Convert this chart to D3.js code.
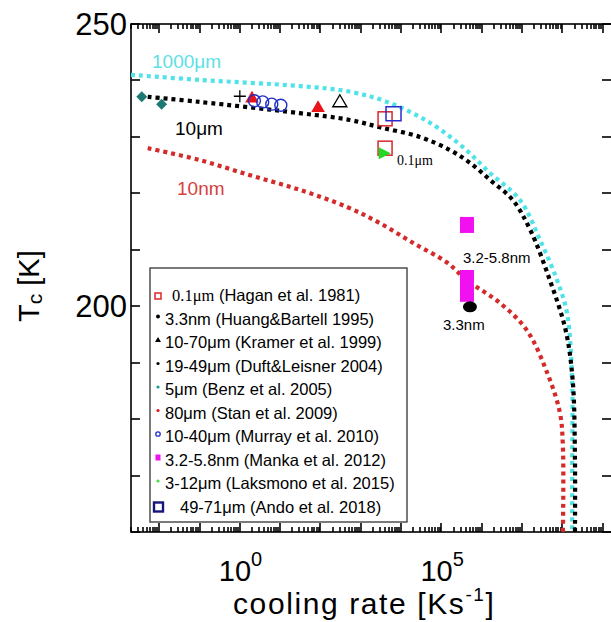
<!DOCTYPE html>
<html>
<head>
<meta charset="utf-8">
<script src="https://cdn.jsdelivr.net/npm/d3@7"></script>
<style>
  body { margin: 0; background: #fff; }
  svg { font-family: "Liberation Sans", Arial, sans-serif; }
</style>
</head>
<body>
<div id="chart"></div>
<script>
// model curves: cooling rate [K/s] vs Tc [K]
var rate1000um = [2.0e-3, 0.10, 31, 540, 5.3e3, 5.2e4, 3.4e5, 1.6e6, 8.9e6, 2.8e7, 7.4e7, 1.3e8, 1.74e8, 1.75e8, 1.75e8];
var tc1000um   = [241.0, 240.1, 239.0, 238.0, 236.0, 232.5, 228.2, 223.6, 218.8, 211.7, 204.6, 198.8, 186.9, 172.7, 160];
var rate10um = [5.2e-3, 0.10, 31, 540, 3.0e3, 2.9e4, 1.6e5, 5.1e5, 1.6e6, 5.9e6, 1.6e7, 4.9e7, 1.2e8, 1.8e8, 2.05e8, 2.05e8];
var tc10um   = [237.1, 236.2, 234.2, 233.0, 231.7, 230.0, 227.7, 225.4, 222.4, 218.8, 213.5, 204.6, 195.8, 186.9, 172.7, 160];
var rate10nm = [5.2e-3, 0.10, 1.8, 31, 450, 3.0e3, 2.0e4, 1.4e5, 4.3e5, 2.8e6, 1.3e7, 4.2e7, 8.7e7, 1.03e8, 1.03e8];
var tc10nm   = [228.0, 225.9, 223.2, 220.6, 217.6, 214.7, 211.2, 207.7, 204.6, 200.6, 195.8, 188.2, 181.1, 175.1, 160];

// measurements
var haganRate = [4000, 4000],           haganTc = [233.2, 228.0];
var huangRate = [5.1e5],                huangTc = [199.9];
var kramerRate = [302],                 kramerTc = [236.4];
var duftRate = [1.0],                   duftTc = [237.2];
var benzRate = [3.7e-3, 1.15e-2],       benzTc = [237.1, 235.8];
var stanRate = [2.0, 87],               stanTc = [236.8, 235.1];
var murrayRate = [2.3, 3.7, 6.2, 10.4], murrayTc = [236.4, 236.2, 235.8, 235.6];
var mankaRate = [4.3e5, 4.3e5, 4.3e5],  mankaTc = [214.4, 205.0, 202.2];
var laksmonoRate = [3700],              laksmonoTc = [227.1];
var andoRate = [6300],                  andoTc = [234.1];

var legendLabels = [
  ["0.1\u03bcm", " (Hagan et al. 1981)"],
  ["3.3nm (Huang&Bartell 1995)"],
  ["10-70\u03bcm (Kramer et al. 1999)"],
  ["19-49\u03bcm (Duft&Leisner 2004)"],
  ["5\u03bcm (Benz et al. 2005)"],
  ["80\u03bcm (Stan et al. 2009)"],
  ["10-40\u03bcm (Murray et al. 2010)"],
  ["3.2-5.8nm (Manka et al. 2012)"],
  ["3-12\u03bcm (Laksmono et al. 2015)"],
  ["49-71\u03bcm (Ando et al. 2018)"]
];
var xTickExps = [0, 5];
var yTickLabels = [200, 250];
var yTickValues = [160, 170, 180, 190, 200, 210, 220, 230, 240, 250];

var W = 611, H = 622;
var plot = {left: 131, right: 612, top: 24, bottom: 532};

var svg = d3.select("#chart").append("svg")
  .attr("width", W).attr("height", H);

var x = d3.scaleLog().domain([2e-3, 1.7e9]).range([plot.left, plot.right]);
var y = d3.scaleLinear().domain([160, 250]).range([plot.bottom, plot.top]);

svg.append("clipPath").attr("id", "clip")
  .append("rect")
  .attr("x", plot.left).attr("y", plot.top)
  .attr("width", plot.right - plot.left).attr("height", plot.bottom - plot.top);

// tick values of the log axis
var majors = [], minors = [];
for (var e = -3; e <= 9; e++) {
  majors.push(Math.pow(10, e));
  for (var m = 2; m <= 9; m++) minors.push(m * Math.pow(10, e));
}
majors = majors.filter(function(v) { return v >= x.domain()[0] && v <= x.domain()[1]; });
minors = minors.filter(function(v) { return v >= x.domain()[0] && v <= x.domain()[1]; });

// inward ticks on all four sides
var ticks = svg.append("g").attr("stroke", "#000").attr("stroke-width", 1.6);
function xTicks(vals, len) {
  ticks.selectAll(null).data(vals).enter().append("line")
    .attr("x1", function(d) { return Math.round(x(d)); })
    .attr("x2", function(d) { return Math.round(x(d)); })
    .attr("y1", plot.top).attr("y2", plot.top + len);
  ticks.selectAll(null).data(vals).enter().append("line")
    .attr("x1", function(d) { return Math.round(x(d)); })
    .attr("x2", function(d) { return Math.round(x(d)); })
    .attr("y1", plot.bottom).attr("y2", plot.bottom - len);
}
xTicks(majors, 9);
xTicks(minors, 5);
ticks.selectAll(null).data(yTickValues).enter().append("line")
  .attr("x1", plot.left).attr("x2", plot.left + 9)
  .attr("y1", function(d) { return Math.round(y(d)); })
  .attr("y2", function(d) { return Math.round(y(d)); });
ticks.selectAll(null).data(yTickValues).enter().append("line")
  .attr("x1", plot.right).attr("x2", plot.right - 10)
  .attr("y1", function(d) { return Math.round(y(d)); })
  .attr("y2", function(d) { return Math.round(y(d)); });

// frame
svg.append("rect")
  .attr("x", plot.left).attr("y", plot.top)
  .attr("width", plot.right - plot.left).attr("height", plot.bottom - plot.top)
  .attr("fill", "none").attr("stroke", "#000").attr("stroke-width", 1.6);

// tick labels
svg.selectAll(".ylab").data(yTickLabels).enter().append("text")
  .attr("x", plot.left - 4).attr("y", function(d) { return y(d) + 11; })
  .attr("text-anchor", "end").attr("font-size", 31)
  .text(function(d) { return d; });

var xl = svg.selectAll(".xlab").data(xTickExps).enter().append("text")
  .attr("x", function(d) { return x(Math.pow(10, d)) - 21; })
  .attr("y", 581).attr("font-size", 29);
xl.append("tspan").text("10");
xl.append("tspan").attr("dy", -15).attr("font-size", 20).text(function(d) { return d; });

// axis titles
var xt = svg.append("text").attr("x", 233).attr("y", 614)
  .attr("font-size", 30).attr("letter-spacing", 1.6);
xt.append("tspan").text("cooling rate [Ks");
xt.append("tspan").attr("dy", -13).attr("font-size", 19).text("-1");
xt.append("tspan").attr("dy", 13).text("]");

var yt = svg.append("text")
  .attr("transform", "translate(39,322) rotate(-90)")
  .attr("font-size", 29);
yt.append("tspan").text("T");
yt.append("tspan").attr("dy", 3).attr("font-size", 21).text("c");
yt.append("tspan").attr("dy", -3).text(" [K]");

// dotted model curves
var curves = [
  {rate: rate1000um, tc: tc1000um, color: "#4fe3e8"},
  {rate: rate10um, tc: tc10um, color: "#000"},
  {rate: rate10nm, tc: tc10nm, color: "#d42a2a"}
];
var line = d3.line()
  .x(function(d) { return x(d[0]); })
  .y(function(d) { return y(d[1]); })
  .curve(d3.curveCatmullRom.alpha(0.5));
curves.forEach(function(c) {
  svg.append("path")
    .datum(d3.zip(c.rate, c.tc))
    .attr("clip-path", "url(#clip)")
    .attr("d", line)
    .attr("fill", "none")
    .attr("stroke", c.color)
    .attr("stroke-width", 4.2)
    .attr("stroke-dasharray", "4,4");
});

// curve labels
svg.append("text").attr("x", 152).attr("y", 68).attr("font-size", 19).attr("fill", "#5ee0e4").text("1000\u03bcm");
svg.append("text").attr("x", 175).attr("y", 135).attr("font-size", 19).attr("fill", "#000").text("10\u03bcm");
svg.append("text").attr("x", 177).attr("y", 195).attr("font-size", 19).attr("fill", "#d84040").text("10nm");
svg.append("text").attr("x", 397).attr("y", 165).attr("font-size", 14).attr("font-family", "Liberation Serif, serif").text("0.1\u03bcm");
svg.append("text").attr("x", 463).attr("y", 263).attr("font-size", 15).text("3.2-5.8nm");
svg.append("text").attr("x", 443).attr("y", 330).attr("font-size", 15).text("3.3nm");

// markers
function pts(rate, tc) { return d3.zip(rate, tc); }
var g = svg.append("g");
var tri = d3.symbol().type(d3.symbolTriangle);

g.selectAll(".benz").data(pts(benzRate, benzTc)).enter().append("path")
  .attr("transform", function(d) { return "translate(" + x(d[0]) + "," + y(d[1]) + ") rotate(45)"; })
  .attr("d", d3.symbol().type(d3.symbolSquare).size(60)())
  .attr("fill", "#1d7a72");

g.selectAll(".duft").data(pts(duftRate, duftTc)).enter().append("path")
  .attr("transform", function(d) { return "translate(" + x(d[0]) + "," + y(d[1]) + ")"; })
  .attr("d", "M-6,0H6M0,-6V6")
  .attr("stroke", "#000").attr("stroke-width", 1.3);

g.selectAll(".stan").data(pts(stanRate, stanTc)).enter().append("path")
  .attr("transform", function(d) { return "translate(" + x(d[0]) + "," + y(d[1]) + ")"; })
  .attr("d", tri.size(80)())
  .attr("fill", "#e8141a");

g.selectAll(".murray").data(pts(murrayRate, murrayTc)).enter().append("circle")
  .attr("cx", function(d) { return x(d[0]); }).attr("cy", function(d) { return y(d[1]); })
  .attr("r", 6).attr("fill", "none").attr("stroke", "#1f2fc8").attr("stroke-width", 1.4);

g.selectAll(".kramer").data(pts(kramerRate, kramerTc)).enter().append("path")
  .attr("transform", function(d) { return "translate(" + x(d[0]) + "," + y(d[1]) + ")"; })
  .attr("d", "M-7,6L0,-6L7,6Z")
  .attr("fill", "none").attr("stroke", "#000").attr("stroke-width", 1.4);

g.selectAll(".hagan").data(pts(haganRate, haganTc)).enter().append("rect")
  .attr("x", function(d) { return x(d[0]) - 7; }).attr("y", function(d) { return y(d[1]) - 7; })
  .attr("width", 14).attr("height", 14)
  .attr("fill", "none").attr("stroke", "#d8262c").attr("stroke-width", 1.5);

g.selectAll(".ando").data(pts(andoRate, andoTc)).enter().append("rect")
  .attr("x", function(d) { return x(d[0]) - 7; }).attr("y", function(d) { return y(d[1]) - 7; })
  .attr("width", 15).attr("height", 14)
  .attr("fill", "none").attr("stroke", "#2a2acf").attr("stroke-width", 1.5);

g.selectAll(".laks").data(pts(laksmonoRate, laksmonoTc)).enter().append("path")
  .attr("transform", function(d) { return "translate(" + x(d[0]) + "," + y(d[1]) + ")"; })
  .attr("d", "M-5,-6L7,0L-5,6Z")
  .attr("fill", "#22d822");

g.selectAll(".manka").data(pts(mankaRate, mankaTc)).enter().append("rect")
  .attr("x", function(d) { return x(d[0]) - 7; }).attr("y", function(d) { return y(d[1]) - 8; })
  .attr("width", 14).attr("height", 16)
  .attr("fill", "#f010f0");

g.selectAll(".huang").data(pts(huangRate, huangTc)).enter().append("ellipse")
  .attr("cx", function(d) { return x(d[0]); }).attr("cy", function(d) { return y(d[1]); })
  .attr("rx", 7).attr("ry", 5.5).attr("fill", "#000");

// legend
var lg = svg.append("g");
lg.append("rect")
  .attr("x", 150).attr("y", 268).attr("width", 257).attr("height", 254)
  .attr("fill", "#fff").attr("stroke", "#333").attr("stroke-width", 1.3);

var rowY = function(i) { return 296 + i * 23.5; };
var mx = 158;
lg.append("rect").attr("x", mx - 3).attr("y", rowY(0) - 3).attr("width", 6).attr("height", 6)
  .attr("fill", "none").attr("stroke", "#d8262c").attr("stroke-width", 1.5);
lg.append("circle").attr("cx", mx).attr("cy", rowY(1) - 3).attr("r", 2).attr("fill", "#000");
lg.append("path").attr("transform", "translate(" + mx + "," + (rowY(2) - 3) + ")").attr("d", "M-3,2L0,-3L3,2Z").attr("fill", "#000");
lg.append("circle").attr("cx", mx).attr("cy", rowY(3) - 3).attr("r", 1.6).attr("fill", "#000");
lg.append("circle").attr("cx", mx).attr("cy", rowY(4) - 3).attr("r", 1.6).attr("fill", "#1d9a92");
lg.append("circle").attr("cx", mx).attr("cy", rowY(5) - 3).attr("r", 1.6).attr("fill", "#e8141a");
lg.append("circle").attr("cx", mx).attr("cy", rowY(6) - 3).attr("r", 2.2).attr("fill", "none").attr("stroke", "#1f2fc8").attr("stroke-width", 1.3);
lg.append("rect").attr("x", mx - 2.5).attr("y", rowY(7) - 6).attr("width", 5).attr("height", 6).attr("fill", "#f010f0");
lg.append("circle").attr("cx", mx).attr("cy", rowY(8) - 3).attr("r", 1.6).attr("fill", "#44e044");
lg.append("rect").attr("x", mx - 4).attr("y", rowY(9) - 5).attr("width", 9).attr("height", 9)
  .attr("fill", "none").attr("stroke", "#15157a").attr("stroke-width", 2.4);

legendLabels.forEach(function(lab, i) {
  var t = lg.append("text")
    .attr("x", i === 0 ? 172 : (i === 9 ? 180 : 165))
    .attr("y", rowY(i) + 5)
    .attr("font-size", 16.5);
  if (lab.length > 1) {
    t.append("tspan").attr("font-family", "Liberation Serif, serif").text(lab[0]);
    t.append("tspan").text(lab[1]);
  } else {
    t.text(lab[0]);
  }
});
</script>
</body>
</html>
